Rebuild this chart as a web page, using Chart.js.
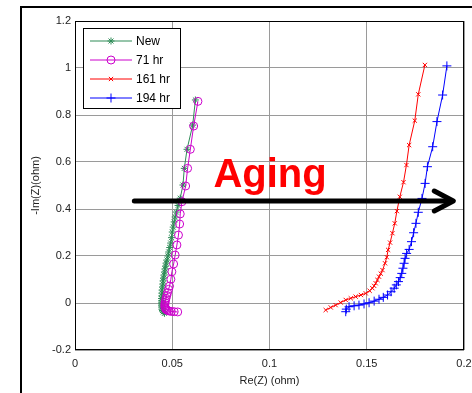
<!DOCTYPE html>
<html lang="en">
<head>
  <meta charset="UTF-8" />
  <title>Nyquist plot - aging</title>
  <script src="https://cdn.jsdelivr.net/npm/chart.js"></script>
  <style>
    body {
      margin: 0;
      background-color: #ffffff;
    }
    #wrap {
      width: 472px;
      height: 393px;
    }
  </style>
</head>
<body>
  <div id="wrap"><canvas id="nyquistChart" width="472" height="393"></canvas></div>

  <script>
    // series values: Re(Z) and -Im(Z) in ohm
    const newRe = [0.0619, 0.0605, 0.0576, 0.0562, 0.0555, 0.0541, 0.0530, 0.0521, 0.0515, 0.0510, 0.0505, 0.0500, 0.0496, 0.0492, 0.0487, 0.0482, 0.0478, 0.0473, 0.0469, 0.0466, 0.0463, 0.0461, 0.0458, 0.0455, 0.0453, 0.0452, 0.0450, 0.0448, 0.0447, 0.0446, 0.0445, 0.0445, 0.0445, 0.0445, 0.0446, 0.0447, 0.0450, 0.0454, 0.0460];
    const newIm = [0.864, 0.757, 0.654, 0.573, 0.502, 0.446, 0.415, 0.387, 0.366, 0.345, 0.323, 0.302, 0.278, 0.255, 0.236, 0.217, 0.200, 0.183, 0.170, 0.157, 0.145, 0.132, 0.119, 0.106, 0.094, 0.081, 0.068, 0.055, 0.042, 0.030, 0.019, 0.009, 0.000, -0.009, -0.017, -0.026, -0.032, -0.038, -0.044];

    const h71Re = [0.0632, 0.0610, 0.0593, 0.0579, 0.0569, 0.0550, 0.0541, 0.0538, 0.0532, 0.0524, 0.0515, 0.0507, 0.0498, 0.0493, 0.0486, 0.0481, 0.0476, 0.0472, 0.0468, 0.0465, 0.0463, 0.0462, 0.0462, 0.0463, 0.0466, 0.0470, 0.0476, 0.0484, 0.0495, 0.0510, 0.0528];
    const h71Im = [0.858, 0.753, 0.654, 0.573, 0.498, 0.431, 0.379, 0.336, 0.289, 0.247, 0.204, 0.166, 0.133, 0.101, 0.072, 0.058, 0.044, 0.032, 0.020, 0.010, 0.001, -0.007, -0.014, -0.020, -0.025, -0.029, -0.032, -0.034, -0.036, -0.037, -0.038];

    const h161Re = [0.1799, 0.1765, 0.1747, 0.1718, 0.1704, 0.1689, 0.1670, 0.1655, 0.1644, 0.1632, 0.1620, 0.1610, 0.1603, 0.1594, 0.1581, 0.1572, 0.1563, 0.1555, 0.1546, 0.1538, 0.1529, 0.1515, 0.1495, 0.1470, 0.1443, 0.1418, 0.1392, 0.1366, 0.1340, 0.1315, 0.1289];
    const h161Im = [1.013, 0.888, 0.776, 0.672, 0.587, 0.514, 0.452, 0.391, 0.339, 0.297, 0.257, 0.226, 0.195, 0.169, 0.140, 0.125, 0.112, 0.098, 0.084, 0.073, 0.063, 0.052, 0.041, 0.034, 0.027, 0.020, 0.013, 0.002, -0.009, -0.019, -0.030];

    const h194Re = [0.1912, 0.1890, 0.1861, 0.1839, 0.1812, 0.1800, 0.1784, 0.1765, 0.1753, 0.1741, 0.1730, 0.1718, 0.1705, 0.1697, 0.1692, 0.1686, 0.1680, 0.1672, 0.1663, 0.1652, 0.1641, 0.1625, 0.1607, 0.1585, 0.1563, 0.1538, 0.1512, 0.1486, 0.1460, 0.1435, 0.1409, 0.1395, 0.1392];
    const h194Im = [1.009, 0.885, 0.772, 0.665, 0.580, 0.509, 0.445, 0.386, 0.339, 0.299, 0.261, 0.228, 0.211, 0.190, 0.169, 0.148, 0.126, 0.108, 0.091, 0.077, 0.063, 0.048, 0.034, 0.024, 0.016, 0.008, 0.001, -0.004, -0.009, -0.012, -0.016, -0.026, -0.037];

    const seriesLabels = ['New', '71 hr', '161 hr', '194 hr'];
    const xTicks = [0, 0.05, 0.1, 0.15, 0.2];
    const yTicks = [-0.2, 0, 0.2, 0.4, 0.6, 0.8, 1, 1.2];

    // the "Aging" annotation, in data units
    const agingText = 'Aging';
    const agingTextAt = [0.1003, 0.494];
    const arrowFrom = [0.0305, 0.434];
    const arrowTo = [0.1945, 0.434];

    const toPoints = (xs, ys) => xs.map((x, i) => ({ x: x, y: ys[i] }));

    const font = "'Liberation Sans', Arial, sans-serif";

    const framePlugin = {
      id: 'frame',
      beforeDraw(chart) {
        const ctx = chart.ctx;
        ctx.save();
        ctx.strokeStyle = '#000';
        ctx.lineWidth = 2;
        ctx.beginPath();
        ctx.moveTo(21, 393);
        ctx.lineTo(21, 7);
        ctx.lineTo(472, 7);
        ctx.stroke();
        ctx.restore();
      },
      afterDraw(chart) {
        const { ctx, chartArea: a } = chart;
        ctx.save();
        ctx.strokeStyle = '#000';
        ctx.lineWidth = 1;
        ctx.strokeRect(a.left + 0.5, a.top + 0.5, a.right - a.left - 1, a.bottom - a.top - 1);
        ctx.restore();
      }
    };

    const agingPlugin = {
      id: 'aging',
      afterDatasetsDraw(chart) {
        const { ctx, scales: { x, y } } = chart;
        ctx.save();
        ctx.fillStyle = '#ff0000';
        ctx.font = 'bold 40px ' + font;
        ctx.textAlign = 'center';
        ctx.textBaseline = 'alphabetic';
        ctx.fillText(agingText, x.getPixelForValue(agingTextAt[0]), y.getPixelForValue(agingTextAt[1]));

        const x0 = x.getPixelForValue(arrowFrom[0]);
        const y0 = y.getPixelForValue(arrowFrom[1]);
        const x1 = x.getPixelForValue(arrowTo[0]);
        const y1 = y.getPixelForValue(arrowTo[1]);
        ctx.strokeStyle = '#000';
        ctx.lineWidth = 5;
        ctx.lineCap = 'round';
        ctx.lineJoin = 'round';
        ctx.beginPath();
        ctx.moveTo(x0, y0);
        ctx.lineTo(x1 - 2, y1);
        ctx.stroke();
        ctx.beginPath();
        ctx.moveTo(x1 - 19, y1 - 10);
        ctx.lineTo(x1, y1);
        ctx.lineTo(x1 - 19, y1 + 10);
        ctx.stroke();
        ctx.restore();
      }
    };

    const legendPlugin = {
      id: 'boxLegend',
      afterDraw(chart) {
        const ctx = chart.ctx;
        const left = 83, top = 28, w = 97, h = 80;
        ctx.save();
        ctx.fillStyle = '#fff';
        ctx.fillRect(left, top, w, h);
        ctx.strokeStyle = '#000';
        ctx.lineWidth = 1;
        ctx.strokeRect(left + 0.5, top + 0.5, w, h);
        ctx.font = '12px ' + font;
        ctx.textBaseline = 'middle';
        chart.data.datasets.forEach((ds, i) => {
          const yy = top + 13 + i * 19;
          ctx.strokeStyle = ds.borderColor;
          ctx.lineWidth = 1;
          ctx.beginPath();
          ctx.moveTo(left + 7, yy);
          ctx.lineTo(left + 49, yy);
          ctx.stroke();
          ctx.fillStyle = 'rgba(0,0,0,0)';
          Chart.helpers.drawPoint(ctx, {
            pointStyle: ds.pointStyle,
            radius: ds.pointRadius,
            borderWidth: 1,
            rotation: 0
          }, left + 28, yy);
          ctx.fillStyle = '#000';
          ctx.fillText(ds.label, left + 53, yy + 1);
        });
        ctx.restore();
      }
    };

    function makeSet(label, xs, ys, color, style, radius, order) {
      return {
        label: label,
        data: toPoints(xs, ys),
        showLine: true,
        borderColor: color,
        backgroundColor: 'rgba(0,0,0,0)',
        borderWidth: 1,
        pointStyle: style,
        pointRadius: radius,
        pointBorderColor: color,
        pointBackgroundColor: 'rgba(0,0,0,0)',
        pointBorderWidth: 1,
        order: order
      };
    }

    const tickFont = { family: font, size: 11 };

    new Chart(document.getElementById('nyquistChart'), {
      type: 'scatter',
      data: {
        datasets: [
          makeSet(seriesLabels[0], newRe, newIm, '#2e8b57', 'star', 3.5, 4),
          makeSet(seriesLabels[1], h71Re, h71Im, '#cc00cc', 'circle', 4, 3),
          makeSet(seriesLabels[2], h161Re, h161Im, '#ff0000', 'crossRot', 3, 2),
          makeSet(seriesLabels[3], h194Re, h194Im, '#0000ff', 'cross', 4.5, 1)
        ]
      },
      options: {
        responsive: false,
        animation: false,
        layout: { padding: { left: 22, top: 21, right: 8, bottom: 0 } },
        plugins: {
          legend: { display: false },
          tooltip: { enabled: false }
        },
        scales: {
          x: {
            type: 'linear',
            min: xTicks[0],
            max: xTicks[xTicks.length - 1],
            afterBuildTicks: (s) => { s.ticks = xTicks.map(v => ({ value: v })); },
            afterFit: (s) => { s.height = 43; s.paddingLeft = 0; s.paddingRight = 0; },
            grid: { color: '#9a9a9a', borderDash: [1, 2], drawTicks: false },
            border: { display: false },
            ticks: { color: '#222', font: tickFont, padding: 7, maxRotation: 0, callback: (v) => String(v) },
            title: { display: true, text: 'Re(Z) (ohm)', color: '#222', font: tickFont, padding: { top: 0, bottom: 5 } }
          },
          y: {
            type: 'linear',
            min: yTicks[0],
            max: yTicks[yTicks.length - 1],
            afterBuildTicks: (s) => { s.ticks = yTicks.map(v => ({ value: v })); },
            afterFit: (s) => { s.width = 53; s.paddingTop = 0; s.paddingBottom = 0; },
            grid: { color: '#9a9a9a', borderDash: [1, 2], drawTicks: false },
            border: { display: false },
            ticks: { color: '#222', font: tickFont, padding: 4, callback: (v) => String(v) },
            title: { display: true, text: '-Im(Z)(ohm)', color: '#222', font: tickFont, padding: { top: 7, bottom: 0 } }
          }
        }
      },
      plugins: [framePlugin, agingPlugin, legendPlugin]
    });
  </script>
</body>
</html>
